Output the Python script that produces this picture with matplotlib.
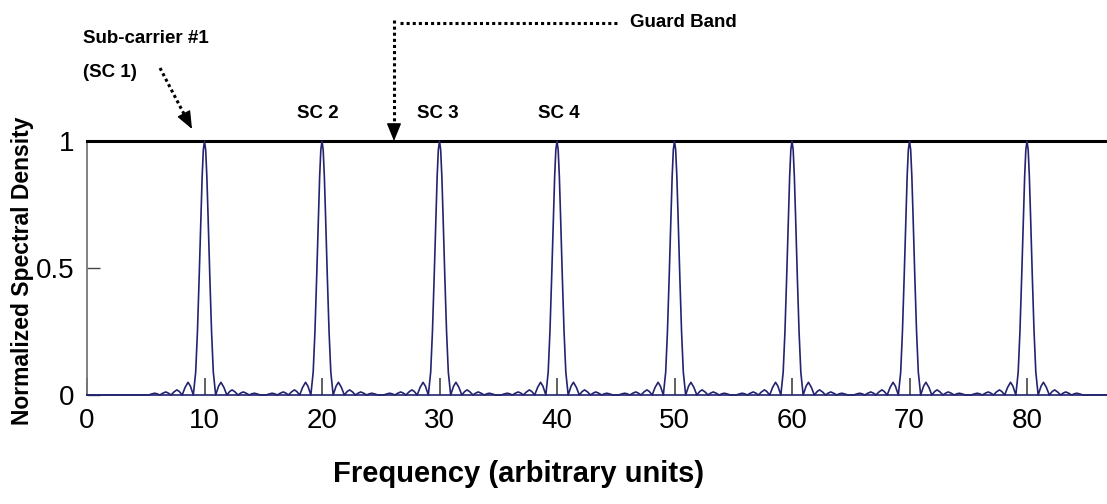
import numpy as np
import matplotlib.pyplot as plt
from matplotlib import font_manager
from matplotlib.lines import Line2D

# sub-carrier centre frequencies and peak heights
centers = [10, 20, 30, 40, 50, 60, 70, 80]
heights = [1, 1, 1, 1, 1, 1, 1, 1]

# one side of a sub-carrier lobe (offset from centre, level)
lobe_offsets = [0, 0.1, 0.2, 0.3, 0.45, 0.6, 0.75, 0.95, 1.2, 1.4, 1.65, 1.9,
                2.15, 2.35, 2.6, 2.85, 3.1, 3.3, 3.55, 3.8, 4.05, 4.25, 4.5, 4.75]
lobe_levels = [1, 0.965, 0.86, 0.71, 0.47, 0.25, 0.09, 0, 0.035, 0.05, 0.03, 0,
               0.014, 0.02, 0.012, 0, 0.008, 0.012, 0.007, 0, 0.005, 0.007, 0.004, 0]

x_ticks = [0, 10, 20, 30, 40, 50, 60, 70, 80]
y_ticks = [0, 0.5, 1]
y_ticklabels = ['0', '0.5', '1']

W, H = 1107, 504
names = {f.name for f in font_manager.fontManager.ttflist}
narrow = 'Liberation Sans Narrow' if 'Liberation Sans Narrow' in names else 'Liberation Sans'
plt.rcParams['font.family'] = ['Liberation Sans', 'DejaVu Sans']


def fig_xy(px, py):
    # pixel position measured from the top-left corner -> figure fraction
    return px / W, 1 - py / H


# build the spectrum trace, lobe by lobe
off = np.array(lobe_offsets)
lev = np.array(lobe_levels)
prof_x = np.concatenate([-off[:0:-1], off])
prof_y = np.concatenate([lev[:0:-1], lev])
xs = [np.array([0.0])]
ys = [np.array([0.0])]
for c, h in zip(centers, heights):
    xs.append(c + prof_x)
    ys.append(h * prof_y)
xs.append(np.array([90.0]))
ys.append(np.array([0.0]))
xs = np.concatenate(xs)
ys = np.concatenate(ys)

fig = plt.figure(figsize=(W / 100, H / 100), dpi=100)
x0, y0 = 87, 395
x1, y1 = 1125, 141
ax = fig.add_axes([x0 / W, 1 - y0 / H, (x1 - x0) / W, (y0 - y1) / H])
ax.plot(xs, ys, color='#23236f', lw=1.2, clip_on=False, zorder=3)

ax.set_xlim(0, (x1 - x0) / 11.75)
ax.set_ylim(0, 1)
ax.set_xticks(x_ticks)
ax.set_xticklabels([str(t) for t in x_ticks])
ax.set_yticks(y_ticks)
ax.set_yticklabels(y_ticklabels)
ax.tick_params(axis='x', direction='in', length=12, width=1.2, color='#444444',
               pad=9, labelsize=20)
ax.tick_params(axis='y', direction='in', length=9, width=1, color='#444444',
               pad=9, labelsize=20)
for lab in ax.get_xticklabels() + ax.get_yticklabels():
    lab.set_fontfamily(narrow)

ax.spines['top'].set_color('black')
ax.spines['top'].set_linewidth(2.2)
ax.spines['left'].set_color('#777777')
ax.spines['left'].set_linewidth(1.3)
ax.spines['bottom'].set_color('#23236f')
ax.spines['bottom'].set_linewidth(1.2)
ax.spines['right'].set_visible(False)

# axis titles
fx, fy = fig_xy(23, 271)
fig.text(fx, fy, 'Normalized Spectral Density', rotation=90, ha='center',
         va='center', fontsize=16.5, fontweight='bold', family=narrow)
fx, fy = fig_xy(519, 482)
fig.text(fx, fy, 'Frequency (arbitrary units)', ha='center', va='baseline',
         fontsize=21, fontweight='bold')

# annotations
labels = [('Sub-carrier #1', 83, 43), ('(SC 1)', 83, 77), ('SC 2', 297, 118),
          ('SC 3', 417, 118), ('SC 4', 538, 118), ('Guard Band', 630, 27)]
for txt, px, py in labels:
    fx, fy = fig_xy(px, py)
    fig.text(fx, fy, txt, ha='left', va='baseline', fontsize=13.5,
             fontweight='bold')

dot = dict(color='black', lw=2.2, linestyle=(0, (1, 1)))
# guard band pointer
ax_, ay_ = fig_xy(400, 23)
bx_, by_ = fig_xy(617, 23)
fig.add_artist(Line2D([ax_, bx_], [ay_, by_], transform=fig.transFigure, **dot))
ax_, ay_ = fig_xy(394, 20)
bx_, by_ = fig_xy(394, 126)
fig.add_artist(Line2D([ax_, bx_], [ay_, by_], transform=fig.transFigure, **dot))
ax.annotate('', xy=fig_xy(394, 141), xytext=fig_xy(394, 124),
            xycoords='figure fraction', textcoords='figure fraction',
            arrowprops=dict(arrowstyle='-|>,head_length=1.1,head_width=0.45',
                            color='black', lw=1, shrinkA=0, shrinkB=0))

# sub-carrier #1 pointer
ax_, ay_ = fig_xy(160, 68)
bx_, by_ = fig_xy(184, 114)
fig.add_artist(Line2D([ax_, bx_], [ay_, by_], transform=fig.transFigure, **dot))
ax.annotate('', xy=fig_xy(192, 129), xytext=fig_xy(183, 112),
            xycoords='figure fraction', textcoords='figure fraction',
            arrowprops=dict(arrowstyle='-|>,head_length=1.1,head_width=0.45',
                            color='black', lw=1, shrinkA=0, shrinkB=0))

fig.savefig('out.png', dpi=100)
